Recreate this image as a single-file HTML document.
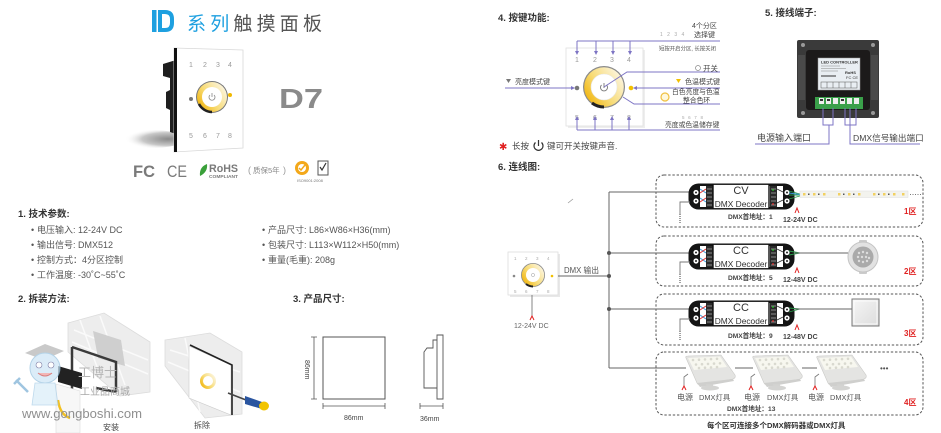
<!DOCTYPE html>
<html><head><meta charset="utf-8">
<style>
html,body{margin:0;padding:0;background:#fff;}
svg{display:block;}
text{font-family:"Liberation Sans","Noto Sans CJK SC",sans-serif;}
</style></head><body>
<svg width="941" height="433" viewBox="0 0 941 433" xmlns="http://www.w3.org/2000/svg">
<defs>
 <linearGradient id="rg" x1="0" y1="0.85" x2="1" y2="0.15">
  <stop offset="0" stop-color="#f0b000"/><stop offset="0.45" stop-color="#f8dc78"/><stop offset="1" stop-color="#fcf8ec"/>
 </linearGradient>
 <radialGradient id="sh" cx="0.75" cy="0.5" r="0.6">
  <stop offset="0" stop-color="#8a8a8a"/><stop offset="0.6" stop-color="#c8c8c8"/><stop offset="1" stop-color="#fff" stop-opacity="0"/>
 </radialGradient>
 <linearGradient id="sq" x1="0" y1="0" x2="1" y2="1">
  <stop offset="0" stop-color="#f6f6f6"/><stop offset="1" stop-color="#dcdcdc"/>
 </linearGradient>
 <g id="dec">
  <rect x="0.5" y="0.5" width="106" height="26" rx="10" fill="#141414"/>
  <rect x="12" y="3" width="83" height="21" fill="#fff"/>
  <circle cx="8" cy="9.5" r="2.6" fill="#fff"/><circle cx="8" cy="9.5" r="1" fill="#222"/>
  <circle cx="8" cy="18" r="2.6" fill="#fff"/><circle cx="8" cy="18" r="1" fill="#222"/>
  <circle cx="99" cy="9.5" r="2.6" fill="#fff"/><circle cx="99" cy="9.5" r="1" fill="#222"/>
  <circle cx="99" cy="18" r="2.6" fill="#fff"/><circle cx="99" cy="18" r="1" fill="#222"/>
  <path d="M12,6 L18,10 M12,15 L18,19" stroke="#3a9ad9" stroke-width="1"/>
  <path d="M12,10 L18,6 M12,19 L18,15" stroke="#e03030" stroke-width="1"/>
  <rect x="18" y="3" width="7" height="21" fill="#2a2a2a"/>
  <path d="M19,6h5M19,10h5M19,14h5M19,18h5M19,22h5" stroke="#aaa" stroke-width="0.7"/>
  <rect x="25" y="1.2" width="56" height="24.6" fill="#fff" stroke="#111" stroke-width="1.4"/>
  <rect x="82" y="3" width="7" height="21" fill="#2a2a2a"/>
  <path d="M83,6h5M83,10h5M83,14h5M83,18h5M83,22h5" stroke="#aaa" stroke-width="0.7"/>
  <path d="M89,6 L95,9 M89,20 L95,17" stroke="#333" stroke-width="0.8"/>
  <circle cx="85" cy="7" r="0.9" fill="#2c2"/><circle cx="85" cy="21" r="0.9" fill="#e33"/>
 </g>
 <g id="lamp">
  <path d="M1,3 Q0,1 3,1 L36,0 L50,20 Q51,23 48,24 L16,30 Q13,30 12,28 Z" fill="#e4e4e2" stroke="#c9c9c6" stroke-width="0.6"/>
  <path d="M3,3 L35,1.5 L42,12 L9,15 Z" fill="#f7f7ef"/>
  <g fill="#d9d9cf">
   <circle cx="8" cy="5" r="1.3"/><circle cx="14" cy="4.7" r="1.3"/><circle cx="20" cy="4.4" r="1.3"/><circle cx="26" cy="4.1" r="1.3"/><circle cx="32" cy="3.8" r="1.3"/>
   <circle cx="11" cy="9.5" r="1.3"/><circle cx="17" cy="9.2" r="1.3"/><circle cx="23" cy="8.9" r="1.3"/><circle cx="29" cy="8.6" r="1.3"/><circle cx="35" cy="8.3" r="1.3"/>
   <circle cx="14" cy="13" r="1.3"/><circle cx="20" cy="12.7" r="1.3"/><circle cx="26" cy="12.4" r="1.3"/><circle cx="32" cy="12.1" r="1.3"/>
  </g>
  <path d="M12,28 L48,24 L49,26 L15,32 Z" fill="#cfcfcd"/>
  <rect x="21" y="29" width="7" height="4" fill="#d2d2d0"/>
  <ellipse cx="25" cy="33" rx="9" ry="2.5" fill="#d4d4d2"/>
 </g>
</defs>

<!-- ================= HEADER ================= -->
<rect x="152" y="10" width="4.5" height="22" fill="#1ea0e0"/>
<path d="M160,12 H165 Q172,12 172,19 V23 Q172,30 165,30 H160 Z" fill="none" stroke="#1ea0e0" stroke-width="4"/>
<text x="187" y="30" font-size="19" fill="#1ea0e0" letter-spacing="4.2">系列<tspan fill="#555">触摸面板</tspan></text>

<!-- product -->
<ellipse cx="150" cy="139" rx="36" ry="9" fill="url(#sh)"/>
<path d="M163,64 L176,60 L176,134 L170,132 L170,110 L166,108 L166,92 L170,90 L170,78 L163,76 Z" fill="#1e1e1e"/>
<path d="M174,48 L243,50 L243,148 L174,152 Z" fill="#fff" stroke="#d8d8d8" stroke-width="0.8"/>
<path d="M174,48 L177,48 L177,152 L174,152 Z" fill="#111"/>
<g font-size="7" fill="#999">
 <text x="189" y="67">1</text><text x="203" y="67">2</text><text x="216" y="67">3</text><text x="228" y="67">4</text>
 <text x="189" y="138">5</text><text x="203" y="138">6</text><text x="216" y="138">7</text><text x="228" y="138">8</text>
</g>
<circle cx="212" cy="97" r="16" fill="#777"/>
<circle cx="212" cy="97" r="15" fill="url(#rg)"/>
<path d="M212,112 A15,15 0 0 1 199,104" stroke="#222" stroke-width="2.5" fill="none"/>
<circle cx="212" cy="97" r="10" fill="#fff"/>
<path d="M210,95 A3,3 0 1 0 214,95 M212,93 V97" stroke="#888" stroke-width="0.8" fill="none"/>
<circle cx="191" cy="99" r="2" fill="#777"/>
<circle cx="230" cy="95" r="2" fill="#f0b800"/>
<text x="279" y="108" font-size="28" font-weight="bold" fill="#8a8a8a" textLength="44" lengthAdjust="spacingAndGlyphs">D7</text>

<!-- certs -->
<text x="133" y="177" font-size="17" font-weight="bold" fill="#7a7a7a" textLength="22" lengthAdjust="spacingAndGlyphs">FC</text>
<text x="167" y="177" font-size="17" fill="#7a7a7a" textLength="20" lengthAdjust="spacingAndGlyphs">CE</text>
<path d="M200,176 Q199,167 207,164 Q208,172 200,176 Z" fill="#3aa03a"/>
<text x="209" y="172" font-size="11" font-weight="bold" fill="#7a7a7a" textLength="29" lengthAdjust="spacingAndGlyphs">RoHS</text>
<text x="209" y="178" font-size="4.6" font-weight="bold" fill="#7a7a7a" textLength="29" lengthAdjust="spacingAndGlyphs">COMPLIANT</text>
<text x="248" y="173" font-size="9" fill="#999">(</text>
<text x="253" y="173" font-size="7.5" fill="#888">质保5年</text>
<text x="283" y="173" font-size="9" fill="#999">)</text>
<circle cx="302" cy="168" r="7" fill="#f3a81a"/>
<circle cx="302" cy="168" r="4" fill="#fff"/>
<path d="M299,168 L301,170 L305,165" stroke="#f3a81a" stroke-width="1.5" fill="none"/>
<rect x="318" y="161" width="10" height="14" fill="#fff" stroke="#555" stroke-width="1"/>
<path d="M320,167 L322,170 L326,163" stroke="#333" stroke-width="1.2" fill="none"/>
<text x="297" y="182" font-size="4" fill="#777">ISO9001:2008</text>

<!-- ================= SECTION 1 ================= -->
<g font-size="9.5" font-weight="bold" fill="#333">
 <text x="18" y="217">1. 技术参数:</text>
 <text x="18" y="302">2. 拆装方法:</text>
 <text x="293" y="302">3. 产品尺寸:</text>
 <text x="498" y="21">4. 按键功能:</text>
 <text x="765" y="16">5. 接线端子:</text>
 <text x="498" y="170">6. 连线图:</text>
</g>
<g font-size="9" fill="#555">
 <text x="31" y="233">•</text><text x="37" y="233">电压输入: 12-24V DC</text>
 <text x="31" y="248">•</text><text x="37" y="248">输出信号: DMX512</text>
 <text x="31" y="263">•</text><text x="37" y="263">控制方式：4分区控制</text>
 <text x="31" y="278">•</text><text x="37" y="278">工作温度: -30˚C~55˚C</text>
 <text x="262" y="233">•</text><text x="268" y="233">产品尺寸: L86×W86×H36(mm)</text>
 <text x="262" y="248">•</text><text x="268" y="248">包装尺寸: L113×W112×H50(mm)</text>
 <text x="262" y="263">•</text><text x="268" y="263">重量(毛重): 208g</text>
</g>

<!-- ================= SECTION 2 images ================= -->
<!-- install -->
<path d="M68,323 L104,313 L150,342 L150,392 L120,396 L68,352 Z" fill="#ededed" stroke="#dcdcdc" stroke-width="0.8"/>
<path d="M74,330 L148,360 M72,342 L148,374 M80,320 L100,375 M100,316 L125,385" stroke="#fafafa" stroke-width="1.5"/>
<path d="M93,331 L121,340 L125,366 L98,358 Z" fill="#cfcfcf"/>
<path d="M72,347 L116,362 L116,392 M72,347 L72,433 M116,392 L96,388" stroke="#3a3a3a" stroke-width="2.5" fill="none"/>
<path d="M58,366 L82,373 L82,389 L58,382 Z" fill="#222"/>
<path d="M56,384 L80,391 L80,433 L56,433 Z" fill="#f7f7f7" stroke="#ddd" stroke-width="0.6"/>
<path d="M58,400 Q60,415 70,418" stroke="#f2c020" stroke-width="2.5" fill="none"/>
<g opacity="0.75">
 <path d="M25,353 L45,344 L64,351 L44,360 Z" fill="#b8b8b8"/>
 <circle cx="45" cy="368" r="15" fill="#cfe6f6" stroke="#9ac4e0" stroke-width="1"/>
 <circle cx="39" cy="365" r="3" fill="#fff" stroke="#558" stroke-width="0.6"/>
 <circle cx="51" cy="365" r="3" fill="#fff" stroke="#558" stroke-width="0.6"/>
 <path d="M38,373 Q45,379 52,373" stroke="#c55" stroke-width="1" fill="#f0a0a0"/>
 <path d="M35,383 L55,383 L58,405 L32,405 Z" fill="#dceef9" stroke="#a8cde6" stroke-width="0.8"/>
 <path d="M16,380 L28,392 M14,384 L20,378" stroke="#7fb2d6" stroke-width="2.5"/>
</g>
<text x="78" y="377" font-size="13" fill="#b4b4b4">工博士</text>
<text x="80" y="395" font-size="10" fill="#a8a8a8">工业品商城</text>
<text x="22" y="418" font-size="12.8" fill="#8f8f8f" textLength="120" lengthAdjust="spacingAndGlyphs">www.gongboshi.com</text>
<text x="103" y="430" font-size="8" fill="#444">安装</text>
<!-- uninstall -->
<path d="M165,340 L210,333 L242,352 L242,414 L205,418 L165,366 Z" fill="#ededed" stroke="#dcdcdc" stroke-width="0.8"/>
<path d="M170,350 L240,372 M168,362 L240,392 M185,338 L200,412" stroke="#fafafa" stroke-width="1.5"/>
<path d="M189,346 L231,365 L231,415 L189,398 Z" fill="#fff" stroke="#ccc" stroke-width="0.6"/>
<path d="M190,345 L232,365 L232,415" stroke="#222" stroke-width="1.6" fill="none"/>
<circle cx="208" cy="381" r="8" fill="url(#rg)"/>
<circle cx="208" cy="381" r="5" fill="#fff"/>
<path d="M228,393 L246,400" stroke="#444" stroke-width="1.5"/>
<path d="M245,396 L262,402 L262,409 L245,404 Z" fill="#2a55a0"/>
<ellipse cx="264" cy="406" rx="5" ry="4.5" fill="#f2c400"/>
<text x="194" y="428" font-size="8" fill="#444">拆除</text>

<!-- ================= SECTION 3 ================= -->
<rect x="323" y="337" width="62" height="62" fill="none" stroke="#555" stroke-width="1"/>
<path d="M314,337 V399 M311,337 H317 M311,399 H317" stroke="#555" stroke-width="0.8"/>
<text transform="translate(305,360) rotate(90)" font-size="7" fill="#444">86mm</text>
<path d="M323,406 H385 M323,403 V409 M385,403 V409" stroke="#555" stroke-width="0.8"/>
<text x="344" y="420" font-size="7" fill="#444">86mm</text>
<path d="M437,335 H443 V399 H437 Z M437,340 H433 V348 H427 L424,352 V388 H437" fill="none" stroke="#555" stroke-width="0.9"/>
<path d="M420,406 H443 M420,403 V409 M443,403 V409" stroke="#555" stroke-width="0.8"/>
<text x="420" y="421" font-size="7" fill="#444">36mm</text>

<!-- ================= SECTION 4 ================= -->
<rect x="568" y="50" width="77" height="78" fill="#eeeeee"/>
<rect x="566" y="48" width="77" height="78" fill="#fff" stroke="#e0e0e0" stroke-width="0.8"/>
<g font-size="7" fill="#999">
 <text x="575" y="62">1</text><text x="593" y="62">2</text><text x="610" y="62">3</text><text x="627" y="62">4</text>
 <text x="575" y="120">5</text><text x="593" y="120">6</text><text x="610" y="120">7</text><text x="627" y="120">8</text>
</g>
<circle cx="604" cy="87" r="21" fill="#8a8a8a"/>
<circle cx="604" cy="87" r="19.8" fill="url(#rg)"/>
<path d="M604,107 A20,20 0 0 1 592,103" stroke="#222" stroke-width="3" fill="none"/>
<circle cx="604" cy="87" r="13" fill="#fff" stroke="#e6e6e6" stroke-width="0.6"/>
<path d="M601.5,85 A3.5,3.5 0 1 0 606.5,85 M604,83 V88" stroke="#777" stroke-width="0.9" fill="none"/>
<circle cx="577" cy="88" r="2.3" fill="#777"/>
<circle cx="631" cy="88" r="2.3" fill="#f2c000"/>
<g stroke="#7d74c4" stroke-width="1" fill="none">
 <path d="M577,41 H720 M577,41 V52 M596,41 V52 M613,41 V52 M630,41 V52"/>
 <path d="M577,130 H720 M577,130 V119 M595,130 V119 M612,130 V119 M629,130 V119"/>
 <path d="M505,88 H572"/>
 <path d="M636,88 H720"/>
 <path d="M604,87 L627,72 H720"/>
 <path d="M623,97 L634,104 H720"/>
</g>
<g fill="#7d74c4">
 <path d="M575,51 L579,51 L577,55 Z"/><path d="M594,51 L598,51 L596,55 Z"/><path d="M611,51 L615,51 L613,55 Z"/><path d="M628,51 L632,51 L630,55 Z"/>
 <path d="M575,120 L579,120 L577,116 Z"/><path d="M593,120 L597,120 L595,116 Z"/><path d="M610,120 L614,120 L612,116 Z"/><path d="M627,120 L631,120 L629,116 Z"/>
 <path d="M571,86 L575,88 L571,90 Z"/><path d="M637,86 L633,88 L637,90 Z"/>
</g>
<text x="692" y="28" font-size="7" fill="#444">4个分区</text>
<text x="694" y="37" font-size="7" fill="#444">选择键</text>
<text x="660" y="36" font-size="5" fill="#aaa" letter-spacing="1.5">1 2 3 4</text>
<text x="659" y="50.5" font-size="5.4" fill="#555">短按开启分区, 长按关闭</text>
<circle cx="698" cy="68" r="2.5" fill="none" stroke="#888" stroke-width="0.7"/>
<text x="703" y="71" font-size="7.5" fill="#444">开关</text>
<path d="M676,79 L681,79 L678.5,83 Z" fill="#f2c000"/>
<text x="685" y="84" font-size="7" fill="#444">色温模式键</text>
<circle cx="665" cy="97" r="4" fill="#fff8dc" stroke="#f0c040" stroke-width="1.2"/>
<text x="672" y="94" font-size="6.8" fill="#444">白色亮度与色温</text>
<text x="683" y="102.5" font-size="6.8" fill="#444">整合色环</text>
<path d="M506,79 L511,79 L508.5,83 Z" fill="#777"/>
<text x="515" y="84" font-size="7" fill="#444">亮度模式键</text>
<text x="682" y="119" font-size="4.5" fill="#aaa" letter-spacing="1.2">5 6 7 8</text>
<text x="665" y="127" font-size="6.8" fill="#444">亮度或色温储存键</text>
<text x="499" y="150" font-size="10" fill="#e02020">✱</text>
<text x="512" y="149" font-size="8.5" fill="#444">长按</text>
<path d="M535.5,142.5 A4.5,4.5 0 1 0 541.5,142.5 M538.5,140 V146" stroke="#333" stroke-width="1.2" fill="none"/>
<text x="547" y="149" font-size="8.5" fill="#444">键可开关按键声音.</text>

<!-- ================= SECTION 5 ================= -->
<rect x="797" y="40" width="82" height="78" rx="2" fill="#3a3a3a"/>
<rect x="806" y="50" width="64" height="60" rx="3" fill="#1c1a1a"/>
<rect x="798" y="55" width="7" height="45" fill="#4a4a4a"/>
<rect x="871" y="55" width="7" height="45" fill="#4a4a4a"/>
<g fill="#9a9a9a"><circle cx="803" cy="45" r="2"/><circle cx="873" cy="45" r="2"/><circle cx="803" cy="113" r="2"/><circle cx="873" cy="113" r="2"/></g>
<rect x="818" y="58" width="42" height="32" fill="#e9eef3" stroke="#999" stroke-width="0.5"/>
<text x="821" y="63.5" font-size="4" font-weight="bold" fill="#333">LED CONTROLLER</text>
<path d="M821,66 H840 M821,68.5 H846 M821,71 H838" stroke="#888" stroke-width="0.6"/>
<text x="845" y="74" font-size="4" font-weight="bold" fill="#333">RoHS</text>
<text x="846" y="79" font-size="4" fill="#333">FC CE</text>
<path d="M821,76 H836" stroke="#333" stroke-width="1"/>
<rect x="821" y="82" width="36" height="6" fill="none" stroke="#555" stroke-width="0.5"/>
<path d="M827,82 V88 M833,82 V88 M839,82 V88 M845,82 V88 M851,82 V88" stroke="#555" stroke-width="0.5"/>
<rect x="815" y="97" width="48" height="12" fill="#3aa04a"/>
<g fill="#eee"><rect x="819" y="98" width="5" height="6"/><rect x="826" y="98" width="5" height="6"/><rect x="833" y="98" width="5" height="6"/><rect x="840" y="98" width="5" height="6"/><rect x="847" y="98" width="5" height="6"/><rect x="854" y="98" width="5" height="6"/></g>
<g fill="#333"><rect x="820" y="99" width="3" height="2"/><rect x="827" y="99" width="3" height="2"/><rect x="841" y="99" width="3" height="2"/></g>
<g stroke="#7d74c4" stroke-width="1" fill="none">
 <path d="M823,108 V125 H833 V108 M829,125 V144 H755"/>
 <path d="M845,108 V125 H856 V108 M850,108 V144 H920"/>
</g>
<text x="757" y="141" font-size="9" fill="#444">电源输入端口</text>
<text x="853" y="141" font-size="8.6" fill="#444">DMX信号输出端口</text>

<!-- ================= SECTION 6 ================= -->
<g fill="none" stroke="#555" stroke-width="1" stroke-dasharray="2.4 1.8">
 <rect x="656" y="175" width="267" height="52" rx="8"/>
 <rect x="656" y="236" width="267" height="50" rx="8"/>
 <rect x="656" y="294" width="267" height="51" rx="8"/>
 <rect x="656" y="352" width="267" height="63" rx="8"/>
</g>
<path d="M568,203 L573,199" stroke="#999" stroke-width="0.8"/>
<!-- small panel -->
<rect x="510" y="254" width="50" height="43" fill="#e8e8e8"/>
<rect x="508" y="252" width="50" height="43" fill="#fff" stroke="#ddd" stroke-width="0.8"/>
<g font-size="4.5" fill="#aaa">
 <text x="514" y="260">1</text><text x="525" y="260">2</text><text x="536" y="260">3</text><text x="547" y="260">4</text>
 <text x="514" y="293">5</text><text x="525" y="293">6</text><text x="536" y="293">7</text><text x="547" y="293">8</text>
</g>
<circle cx="533" cy="275" r="12" fill="#8a8a8a"/>
<circle cx="533" cy="275" r="11.2" fill="url(#rg)"/>
<path d="M533,286.5 A11.5,11.5 0 0 1 526,284" stroke="#222" stroke-width="2" fill="none"/>
<circle cx="533" cy="275" r="7" fill="#fff"/>
<circle cx="533" cy="275" r="1.6" fill="none" stroke="#999" stroke-width="0.5"/>
<circle cx="514" cy="276" r="1.3" fill="#888"/><circle cx="552" cy="276" r="1.3" fill="#f2c000"/>
<path d="M532,295 V316" stroke="#666" stroke-width="0.8"/>
<path d="M530,320 L532,316 L534,320" stroke="#e02020" stroke-width="1" fill="none"/>
<text x="514" y="328" font-size="7" fill="#666">12-24V DC</text>

<!-- bus -->
<g stroke="#666" stroke-width="1" fill="none">
 <path d="M558,276 H609"/>
 <path d="M609,192 V368"/>
 <path d="M609,192 H690 M609,253 H690 M609,309 H690 M609,368 H686 M735,368 H753 M802,368 H817"/>
</g>
<g fill="#555"><circle cx="609" cy="276" r="2"/><circle cx="609" cy="253" r="2"/><circle cx="609" cy="309" r="2"/></g>
<text x="564" y="273" font-size="7.8" fill="#555">DMX 输出</text>

<!-- decoders -->
<use href="#dec" x="688" y="183"/>
<use href="#dec" x="688" y="243"/>
<use href="#dec" x="688" y="300"/>
<g fill="#333" text-anchor="middle">
 <text x="741" y="194" font-size="11">CV</text>
 <text x="741" y="207" font-size="8.4">DMX Decoder</text>
 <text x="741" y="254" font-size="11">CC</text>
 <text x="741" y="267" font-size="8.4">DMX Decoder</text>
 <text x="741" y="311" font-size="11">CC</text>
 <text x="741" y="324" font-size="8.4">DMX Decoder</text>
</g>
<!-- left gray wires -->
<g stroke="#777" stroke-width="0.9" fill="none">
 <path d="M690,202 H680 V214"/><path d="M680,214 V223" stroke-dasharray="1 1" stroke-width="1.4"/>
 <path d="M690,262 H680 V274"/><path d="M680,274 V283" stroke-dasharray="1 1" stroke-width="1.4"/>
 <path d="M690,319 H680 V331"/><path d="M680,331 V340" stroke-dasharray="1 1" stroke-width="1.4"/>
</g>
<!-- power carets -->
<g stroke="#e02020" stroke-width="1" fill="none">
 <path d="M795,213 L797,208 L799,213"/>
 <path d="M795,273 L797,268 L799,273"/>
 <path d="M795,330 L797,325 L799,330"/>
</g>
<g font-size="6.6" font-weight="bold" fill="#444">
 <text x="728" y="219">DMX首地址：1</text>
 <text x="728" y="280">DMX首地址：5</text>
 <text x="728" y="338">DMX首地址：9</text>
 <text x="727" y="411">DMX首地址：13</text>
</g>
<g font-size="7" font-weight="bold" fill="#444">
 <text x="783" y="222">12-24V DC</text>
 <text x="783" y="282">12-48V DC</text>
 <text x="783" y="339">12-48V DC</text>
</g>
<g font-size="8" font-weight="bold" fill="#e02020">
 <text x="904" y="214">1区</text>
 <text x="904" y="274">2区</text>
 <text x="904" y="336">3区</text>
 <text x="904" y="405">4区</text>
</g>
<!-- zone 1 output: strip -->
<path d="M789,191 L800,194 M789,195 L800,195 M789,199 L800,196" stroke="#2a9a4a" stroke-width="0.9"/>
<path d="M789,193 L800,194.5" stroke="#3a9ad9" stroke-width="0.9"/>
<rect x="800" y="191" width="108" height="6.5" fill="#f3f3ee" stroke="#ddd" stroke-width="0.5"/>
<g fill="#f2d060">
 <rect x="803" y="193" width="2.5" height="2.5"/><rect x="813" y="193" width="2.5" height="2.5"/><rect x="823" y="193" width="2.5" height="2.5"/><rect x="838" y="193" width="2.5" height="2.5"/><rect x="848" y="193" width="2.5" height="2.5"/><rect x="858" y="193" width="2.5" height="2.5"/><rect x="873" y="193" width="2.5" height="2.5"/><rect x="883" y="193" width="2.5" height="2.5"/><rect x="893" y="193" width="2.5" height="2.5"/><rect x="902" y="193" width="2.5" height="2.5"/>
</g>
<g fill="#555">
 <rect x="808" y="193.5" width="1.5" height="1.5"/><rect x="818" y="193.5" width="1.5" height="1.5"/><rect x="843" y="193.5" width="1.5" height="1.5"/><rect x="853" y="193.5" width="1.5" height="1.5"/><rect x="878" y="193.5" width="1.5" height="1.5"/><rect x="888" y="193.5" width="1.5" height="1.5"/>
</g>
<path d="M910,194.5 H921" stroke="#777" stroke-width="1" stroke-dasharray="1 1.5"/>
<!-- zone 2 downlight -->
<path d="M789,251 L800,253 M789,255 L800,253" stroke="#2a9a4a" stroke-width="0.9"/>
<path d="M795,253 H848" stroke="#666" stroke-width="0.9"/>
<rect x="859" y="240" width="8" height="3" rx="1" fill="#ccc"/>
<rect x="859" y="271" width="8" height="3" rx="1" fill="#ccc"/>
<circle cx="863" cy="257" r="15" fill="#e2e2e2" stroke="#c4c4c4" stroke-width="1"/>
<circle cx="863" cy="257" r="10.5" fill="#aaa"/>
<g fill="#ddd">
 <circle cx="859" cy="253" r="1.2"/><circle cx="863" cy="252" r="1.2"/><circle cx="867" cy="253" r="1.2"/><circle cx="858" cy="257" r="1.2"/><circle cx="862" cy="257" r="1.2"/><circle cx="866" cy="257" r="1.2"/><circle cx="869" cy="258" r="1.2"/><circle cx="859" cy="261" r="1.2"/><circle cx="863" cy="262" r="1.2"/><circle cx="867" cy="261" r="1.2"/>
</g>
<!-- zone 3 square -->
<path d="M789,308 L800,309 M789,312 L800,309" stroke="#2a9a4a" stroke-width="0.9"/>
<path d="M795,309 H852" stroke="#666" stroke-width="0.9"/>
<rect x="852" y="299" width="27" height="27" fill="url(#sq)" stroke="#777" stroke-width="1"/>
<rect x="854" y="301" width="23" height="23" fill="none" stroke="#fff" stroke-width="0.8"/>
<!-- zone 4 lamps -->
<use href="#lamp" x="685" y="355"/>
<use href="#lamp" x="752" y="355"/>
<use href="#lamp" x="816" y="355"/>
<g stroke="#777" stroke-width="0.8" fill="none">
 <path d="M688,374 L684,377 V386"/>
 <path d="M755,374 L751,377 V386"/>
 <path d="M819,374 L815,377 V386"/>
</g>
<g stroke="#e02020" stroke-width="1" fill="none">
 <path d="M682,390 L684,386 L686,390"/>
 <path d="M749,390 L751,386 L753,390"/>
 <path d="M813,390 L815,386 L817,390"/>
</g>
<text x="880" y="371" font-size="8" fill="#555">•••</text>
<g font-size="8" fill="#555">
 <text x="677" y="400">电源</text><text x="744" y="400">电源</text><text x="808" y="400">电源</text>
</g>
<g font-size="7.4" fill="#555">
 <text x="699" y="400">DMX灯具</text><text x="767" y="400">DMX灯具</text><text x="830" y="400">DMX灯具</text>
</g>
<text x="707" y="428" font-size="7.5" font-weight="bold" fill="#333">每个区可连接多个DMX解码器或DMX灯具</text>
</svg>
</body></html>
